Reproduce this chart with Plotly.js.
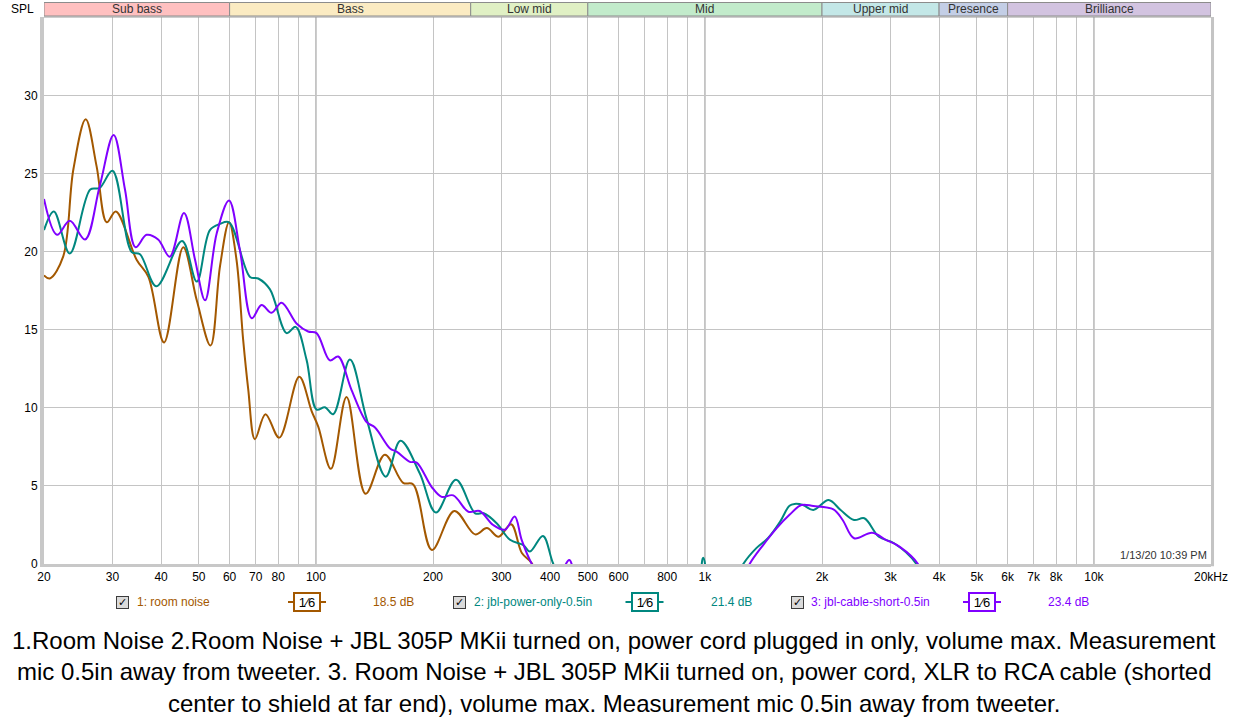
<!DOCTYPE html>
<html>
<head>
<meta charset="utf-8">
<script src="https://cdn.plot.ly/plotly-3.0.1.min.js"></script>
<style>
  html, body { margin: 0; padding: 0; background: #fff; }
  #chart { width: 1233px; height: 723px; }
</style>
</head>
<body>
<div id="chart"></div>
<script>
// SPL (dB) against frequency (Hz)
const noiseFreq = [20, 20.7, 22.4, 23.8, 25.6, 27.3, 29.0, 30.6, 34.6, 37.1, 40.7, 45.6, 49.4, 53.6, 56.7, 59.8, 62.5, 65.0, 67.0, 69.7, 74.2, 80.5, 90.6, 97.5, 101.4, 109.3, 119.9, 134.2, 150.4, 167.6, 177.9, 198.7, 226.9, 256.7, 275.1, 294.8, 317.6, 338.4, 359, 380];
const noiseSpl = [18.5, 18.3, 19.7, 25.3, 28.5, 25.5, 21.9, 22.6, 19.5, 18.4, 14.2, 20.3, 16.9, 14.0, 19.1, 21.9, 19.5, 14.4, 11.2, 8.0, 9.6, 8.1, 12.0, 9.8, 8.8, 6.1, 10.7, 4.5, 7.0, 5.2, 5.1, 0.9, 3.4, 1.9, 2.3, 1.75, 2.55, 0.7, 0.05, -1.5];

const powerFreq = [20, 21.2, 23.3, 26.3, 27.8, 30.0, 33.6, 35.3, 38.9, 45.3, 49.4, 53.4, 56.7, 59.8, 67.7, 71.1, 76.2, 84.1, 88.7, 94.6, 100.4, 105.5, 110.8, 122.3, 135, 151.2, 165.0, 185, 203.5, 229.2, 256.7, 270, 291.9, 315.5, 341.7, 355, 383.4, 407.7, 440, 950, 990, 1030, 1200, 1255, 1354, 1452, 1560, 1650, 1700, 1788, 1900, 2080, 2233, 2418, 2570, 2800, 3065, 3496, 3700];
const powerSpl = [21.4, 22.6, 19.9, 24.0, 24.1, 25.2, 20.0, 19.85, 17.8, 20.7, 18.1, 21.4, 21.8, 21.9, 18.4, 18.3, 17.6, 14.8, 15.2, 13.1, 9.9, 10.05, 9.6, 13.1, 9.3, 5.6, 7.9, 5.8, 3.3, 5.4, 3.25, 3.25, 2.6, 1.55, 1.2, 0.8, 1.8, 0, -1.5, -1, 0.4, -1, -1, 0, 1.0, 1.65, 2.7, 3.74, 3.85, 3.78, 3.46, 4.1, 3.46, 2.82, 2.93, 1.75, 1.33, 0, -1.5];

const cableFreq = [20, 21.6, 23.3, 25.5, 27.8, 30.2, 32.3, 34.4, 36.7, 39.3, 42.1, 45.8, 48.9, 51.9, 55.6, 59.8, 63.8, 68.4, 72.5, 76.9, 81.6, 89.3, 95.5, 100.4, 108.6, 114.1, 123.5, 135, 141.9, 155.1, 161.2, 174.4, 181.6, 198.3, 210.5, 225.5, 246.6, 263.6, 285.6, 306.3, 324.4, 338, 359, 385, 425, 448, 470, 1250, 1303, 1410, 1530, 1650, 1770, 1900, 2140, 2260, 2418, 2690, 2920, 3170, 3530, 3700];
const cableSpl = [23.4, 21.1, 22.0, 20.8, 24.2, 27.5, 24.0, 20.3, 21.1, 20.8, 19.7, 22.5, 19.5, 16.9, 21.2, 23.3, 20.1, 15.75, 16.6, 16.1, 16.75, 15.4, 14.9, 14.8, 13.05, 13.3, 11.15, 9.1, 8.75, 7.4, 7.2, 6.55, 6.5, 4.95, 4.3, 4.4, 3.35, 3.4, 2.5, 2.2, 3.05, 1.55, 0, -1.2, -0.6, 0.25, -0.6, -1, 0, 1.2, 2.3, 3.15, 3.78, 3.72, 3.5, 2.82, 1.65, 2.0, 1.55, 1.1, 0, -1.5];

const seriesNames = ['1: room noise', '2: jbl-power-only-0.5in', '3: jbl-cable-short-0.5in'];
const seriesLevels = ['18.5 dB', '21.4 dB', '23.4 dB'];
const seriesSmoothing = ['1⁄6', '1⁄6', '1⁄6'];

const bandNames = ['Sub bass', 'Bass', 'Low mid', 'Mid', 'Upper mid', 'Presence', 'Brilliance'];
const bandEdges = [20, 60, 250, 500, 2000, 4000, 6000, 20000];

const freqTicks = [20, 30, 40, 50, 60, 70, 80, 90, 100, 200, 300, 400, 500, 600, 700, 800, 900, 1000,
  2000, 3000, 4000, 5000, 6000, 7000, 8000, 9000, 10000, 20000];
const freqLabels = ['20', '30', '40', '50', '60', '70', '80', '', '100', '200', '300', '400', '500', '600', '', '800', '', '1k',
  '2k', '3k', '4k', '5k', '6k', '7k', '8k', '', '10k', '20kHz'];
const splTicks = [0, 5, 10, 15, 20, 25, 30];
const decades = [100, 1000, 10000];

const captionLines = [
  '1.Room Noise 2.Room Noise + JBL 305P MKii turned on, power cord plugged in only, volume max. Measurement',
  'mic 0.5in away from tweeter. 3. Room Noise + JBL 305P MKii turned on, power cord, XLR to RCA cable (shorted',
  'center to shield at far end), volume max. Measurement mic 0.5in away from tweeter.'
];
const stamp = '1/13/20 10:39 PM';

// styling
const colors = ['#A35800', '#00877F', '#8000FF'];
const bandColors = ['#FFC0C0', '#FBEBC2', '#E0F0C4', '#C2EBCB', '#C3E7E7', '#C3CEE6', '#D2C3E0'];
const FONT = 'Liberation Sans, Arial, sans-serif';

const W = 1233, H = 723;
const M = { l: 44, r: 22, t: 17, b: 159 };
const PW = W - M.l - M.r, PH = H - M.t - M.b;
const px = (x) => (x - M.l) / PW;           // page pixel -> paper x
const py = (y) => (H - M.b - y) / PH;       // page pixel -> paper y

const traces = [
  [noiseFreq, noiseSpl],
  [powerFreq, powerSpl],
  [cableFreq, cableSpl]
].map(([x, y], i) => ({
  type: 'scatter',
  mode: 'lines',
  x, y,
  name: seriesNames[i],
  line: { color: colors[i], width: 2, shape: 'spline', smoothing: 1 },
  hoverinfo: 'skip',
  showlegend: false
}));

const shapes = [];
const annotations = [];

// small helper so every text box is anchored on its centre unless told otherwise
function label (x, y, text, font, extra) {
  annotations.push(Object.assign({
    xref: 'paper', yref: 'paper', x, y, text,
    showarrow: false, xanchor: 'center', yanchor: 'middle', font
  }, extra || {}));
}

// frequency band strip above the plot
bandNames.forEach((name, i) => {
  shapes.push({
    type: 'rect', xref: 'x', yref: 'paper',
    x0: bandEdges[i], x1: bandEdges[i + 1], y0: py(16), y1: py(2.5),
    fillcolor: bandColors[i], line: { color: '#8C8C8C', width: 1 }
  });
  label(Math.log10(Math.sqrt(bandEdges[i] * bandEdges[i + 1])), py(9),
    name, { family: FONT, size: 12, color: '#333' }, { xref: 'x' });
});

// darker decade lines
decades.forEach((d) => {
  shapes.push({
    type: 'line', xref: 'x', yref: 'paper', layer: 'between',
    x0: d, x1: d, y0: 0, y1: 1,
    line: { color: '#808080', width: 1 }
  });
});

// frame: thin top edge, shadow on the right
shapes.push({ type: 'line', xref: 'paper', yref: 'paper', x0: 0, x1: 1, y0: 1, y1: 1, line: { color: '#9C9C9C', width: 1 } });
shapes.push({ type: 'line', xref: 'paper', yref: 'paper', x0: 1.0013, x1: 1.0013, y0: -0.004, y1: 1, line: { color: '#C4C4C4', width: 3 } });

// legend row
seriesNames.forEach((name, i) => {
  const base = 115 + 337.5 * i;
  const yRow = py(602);
  label(px(base + 7), yRow, '✓', { family: 'DejaVu Sans', size: 11, color: '#000' }, {
    width: 11, height: 11, borderpad: 0,
    bgcolor: '#DADADA', bordercolor: '#3C3C3C', borderwidth: 1
  });
  label(px(base + 19.5), yRow, name, { family: FONT, size: 12, color: colors[i] }, { xanchor: 'left' });
  shapes.push({
    type: 'line', xref: 'paper', yref: 'paper',
    x0: px(base + 173), x1: px(base + 211), y0: yRow, y1: yRow,
    line: { color: colors[i], width: 2 }
  });
  label(px(base + 192), yRow, seriesSmoothing[i], { family: FONT, size: 13, color: '#000' }, {
    width: 22, height: 14, borderpad: 1,
    bgcolor: '#fff', bordercolor: colors[i], borderwidth: 2
  });
  label(px(base + 278.5), yRow, seriesLevels[i], { family: FONT, size: 12, color: colors[i] });
});

// caption under the chart
const captionY = [640, 671.5, 703];
captionLines.forEach((line, i) => {
  label(px(614), py(captionY[i]), line, { family: FONT, size: 24, color: '#000' });
});

label(px(36), py(8.5), 'SPL', { family: FONT, size: 12, color: '#000' }, { xanchor: 'right' });
label(px(1209), py(555), stamp, { family: FONT, size: 11, color: '#333' }, { xanchor: 'right' });

const layout = {
  width: W,
  height: H,
  margin: M,
  paper_bgcolor: '#fff',
  plot_bgcolor: '#fff',
  font: { family: FONT, size: 12, color: '#000' },
  xaxis: {
    type: 'log',
    range: [Math.log10(20), Math.log10(20000)],
    tickvals: freqTicks,
    ticktext: freqLabels,
    tickangle: 0,
    ticks: '',
    gridcolor: '#C4C4C4',
    gridwidth: 1,
    showline: true,
    linecolor: '#C8C8C8',
    linewidth: 3,
    zeroline: false,
    tickfont: { family: FONT, size: 12, color: '#000' }
  },
  yaxis: {
    range: [0, 35.06],
    tickvals: splTicks,
    ticks: '',
    gridcolor: '#C4C4C4',
    gridwidth: 1,
    showline: true,
    linecolor: '#C8C8C8',
    linewidth: 4,
    zeroline: false,
    tickfont: { family: FONT, size: 12, color: '#000' }
  },
  shapes,
  annotations
};

Plotly.newPlot('chart', traces, layout, { staticPlot: true, displayModeBar: false });
</script>
</body>
</html>
